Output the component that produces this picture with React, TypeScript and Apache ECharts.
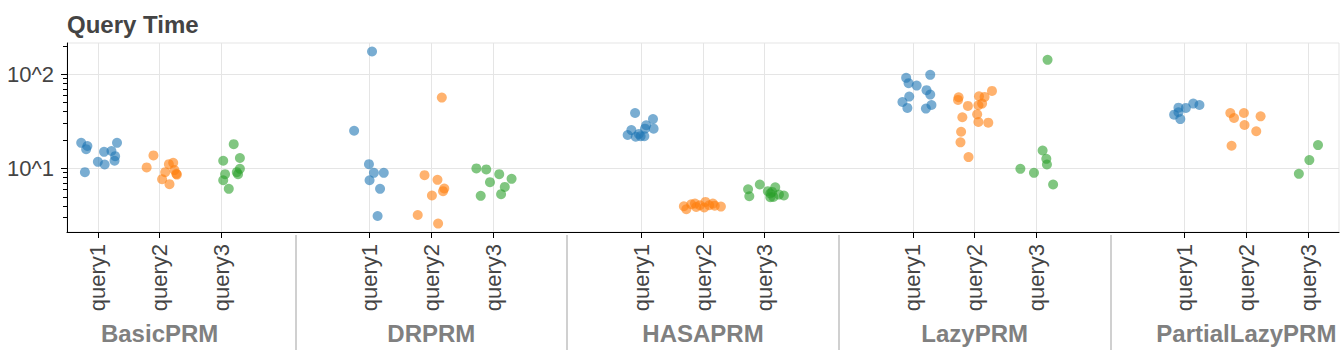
import React, { useEffect, useRef } from "react";
import * as echarts from "echarts";

const groups = ["BasicPRM", "DRPRM", "HASAPRM", "LazyPRM", "PartialLazyPRM"];
const queries = ["query1", "query2", "query3"];
const queryColors = ["#1f77b4", "#ff7f0e", "#2ca02c"];
const yMajorTicks = [10, 100];
const yMinorTicks = [3, 4, 5, 6, 7, 8, 9, 20, 30, 40, 50, 60, 70, 80, 90, 200];
const yRange = [2.117, 214];

// each point: [jitter offset in category units, query time]
const basicPRM_query1 = [[-0.27, 18.7], [-0.17, 17.3], [-0.19, 16.0], [0.31, 18.7], [0.1, 15.0], [0.22, 15.3], [0.28, 13.5], [0.27, 12.05], [0.0, 11.75], [0.11, 11.0], [-0.21, 9.13]];
const basicPRM_query2 = [[-0.1, 13.75], [0.22, 11.47], [0.15, 11.1], [-0.21, 10.25], [0.24, 9.6], [0.27, 8.77], [0.09, 9.13], [0.04, 7.69], [0.16, 6.81], [0.28, 8.6]];
const basicPRM_query3 = [[0.2, 18.1], [0.3, 12.9], [0.03, 12.05], [0.3, 9.9], [0.25, 9.13], [0.27, 8.7], [0.06, 8.7], [0.03, 7.5], [0.12, 6.07]];
const drPRM_query1 = [[0.04, 174], [-0.25, 25.1], [-0.01, 11.1], [0.07, 8.98], [0.23, 8.98], [0.0, 7.5], [0.17, 6.07], [0.13, 3.13]];
const drPRM_query2 = [[0.17, 56.4], [-0.11, 8.49], [0.1, 7.57], [0.21, 6.13], [0.19, 5.74], [0.01, 5.16], [-0.22, 3.21], [0.11, 2.6]];
const drPRM_query3 = [[-0.27, 10.0], [-0.11, 9.76], [0.1, 8.7], [0.3, 7.75], [-0.05, 7.15], [0.19, 6.37], [0.13, 5.33], [-0.2, 5.12]];
const hasaPRM_query1 = [[-0.1, 38.7], [0.19, 33.4], [0.2, 26.4], [0.08, 28.7], [0.06, 26.4], [-0.16, 25.5], [-0.22, 22.6], [-0.09, 21.7], [-0.01, 22.0], [0.05, 22.0], [-0.04, 23.2]];
const hasaPRM_query2 = [[-0.31, 3.97], [-0.27, 3.69], [-0.19, 4.17], [-0.13, 4.24], [-0.05, 4.07], [0.02, 3.85], [0.04, 4.41], [0.1, 4.07], [0.16, 4.24], [0.19, 4.03], [0.29, 3.94], [-0.11, 3.9]];
const hasaPRM_query3 = [[-0.08, 6.76], [0.17, 6.32], [-0.27, 6.02], [-0.25, 5.07], [0.05, 5.74], [0.09, 5.42], [0.14, 4.99], [0.31, 5.16], [0.23, 5.28], [0.12, 5.64], [0.09, 4.96]];
const lazyPRM_query1 = [[0.28, 98.3], [-0.11, 91.4], [-0.07, 80.2], [0.06, 75.7], [0.22, 67.6], [0.28, 60.7], [-0.06, 57.8], [-0.17, 50.7], [0.3, 47.1], [-0.09, 43.8], [0.21, 43.1]];
const lazyPRM_query2 = [[0.28, 66.4], [-0.26, 56.9], [-0.27, 53.3], [0.07, 58.3], [0.16, 57.4], [0.12, 48.7], [0.06, 46.8], [-0.11, 46.0], [0.04, 37.5], [-0.2, 34.9], [0.06, 31.1], [0.22, 30.6], [-0.22, 24.5], [-0.23, 18.9], [-0.1, 13.2]];
const lazyPRM_query3 = [[0.18, 141.9], [0.1, 15.5], [0.16, 12.65], [0.17, 11.0], [-0.26, 9.9], [-0.04, 8.98], [0.27, 6.76]];
const partialLazyPRM_query1 = [[0.14, 48.7], [0.24, 47.1], [0.02, 43.8], [-0.1, 44.1], [-0.1, 39.4], [-0.17, 37.2], [-0.07, 33.4]];
const partialLazyPRM_query2 = [[-0.26, 38.7], [-0.04, 38.7], [-0.2, 34.3], [0.23, 35.7], [-0.03, 28.9], [0.16, 24.8], [-0.24, 17.4]];
const partialLazyPRM_query3 = [[0.16, 17.7], [0.02, 12.25], [-0.15, 8.77]];

const samples = [
  [basicPRM_query1, basicPRM_query2, basicPRM_query3],
  [drPRM_query1, drPRM_query2, drPRM_query3],
  [hasaPRM_query1, hasaPRM_query2, hasaPRM_query3],
  [lazyPRM_query1, lazyPRM_query2, lazyPRM_query3],
  [partialLazyPRM_query1, partialLazyPRM_query2, partialLazyPRM_query3],
];

const GROUP_PADDING = 1.4;
const GROUP_STEP = queries.length + GROUP_PADDING;
const pos = (g: number, q: number) => g * GROUP_STEP + q;
const X_MIN = -0.5;
const X_MAX = pos(groups.length - 1, queries.length - 1) + 0.5;

const FONT = "'Liberation Sans', Arial, Helvetica, sans-serif";

export default function App() {
  const ref = useRef<HTMLDivElement>(null);
  useEffect(() => {
    if (!ref.current) return;
    const chart = echarts.init(ref.current, undefined, { renderer: "svg" });

    const catPositions: number[] = [];
    const catNames: string[] = [];
    groups.forEach((_, g) =>
      queries.forEach((name, q) => {
        catPositions.push(pos(g, q));
        catNames.push(name);
      })
    );
    const groupCenters = groups.map((_, g) => pos(g, (queries.length - 1) / 2));
    const separators = groups.slice(1).map((_, g) => pos(g, queries.length - 1) + (GROUP_STEP - (queries.length - 1)) / 2);
    const nearest = (v: number, arr: number[]) => {
      let best = 0;
      arr.forEach((p, i) => {
        if (Math.abs(p - v) < Math.abs(arr[best] - v)) best = i;
      });
      return best;
    };

    const series = queries.map((name, q) => ({
      name,
      type: "scatter",
      xAxisIndex: 0,
      yAxisIndex: 0,
      symbolSize: 10,
      itemStyle: { color: queryColors[q], opacity: 0.6 },
      data: groups.flatMap((_, g) =>
        samples[g][q].map(([j, v]) => [pos(g, q) + j, Math.log10(v)])
      ),
    }));

    const yMin = Math.log10(yRange[0]);
    const yMax = Math.log10(yRange[1]);

    chart.setOption({
      animation: false,
      textStyle: { fontFamily: FONT },
      title: {
        text: "Query Time",
        left: 62,
        top: 7,
        textStyle: { fontSize: 24, fontWeight: "bold", color: "#444444", fontFamily: FONT },
      },
      grid: {
        left: 67,
        right: 4,
        top: 43,
        bottom: 126,
        show: true,
        borderColor: "#e5e5e5",
        borderWidth: 1,
        containLabel: false,
      },
      xAxis: [
        {
          type: "value",
          min: X_MIN,
          max: X_MAX,
          position: "bottom",
          axisLine: { show: true, onZero: false, lineStyle: { color: "#000", width: 1 } },
          axisTick: { show: true, customValues: catPositions, length: 6, lineStyle: { color: "#000" } },
          axisLabel: {
            show: true,
            customValues: catPositions,
            rotate: 90,
            margin: 12,
            fontSize: 22,
            color: "#444444",
            fontFamily: FONT,
            formatter: (v: number) => catNames[nearest(v, catPositions)],
          },
          splitLine: { show: true, lineStyle: { color: "#e5e5e5", width: 1 } },
        },
        {
          type: "value",
          min: X_MIN,
          max: X_MAX,
          position: "bottom",
          axisLine: { show: false, onZero: false },
          axisTick: { show: false, customValues: groupCenters },
          axisLabel: {
            show: true,
            customValues: groupCenters,
            margin: 89,
            fontSize: 24,
            fontWeight: "bold",
            color: "#808080",
            fontFamily: FONT,
            formatter: (v: number) => groups[nearest(v, groupCenters)],
          },
          splitLine: { show: false },
        },
        {
          type: "value",
          min: X_MIN,
          max: X_MAX,
          position: "bottom",
          offset: 3,
          axisLine: { show: false, onZero: false },
          axisTick: { show: true, customValues: separators, length: 115, lineStyle: { color: "#d0d0d0", width: 2 } },
          axisLabel: { show: false, customValues: separators },
          splitLine: { show: false },
        },
      ],
      yAxis: [
        {
          type: "value",
          min: yMin,
          max: yMax,
          position: "left",
          axisLine: { show: true, onZero: false, lineStyle: { color: "#000", width: 1 } },
          axisTick: { show: true, customValues: yMajorTicks.map(Math.log10), length: 6, lineStyle: { color: "#000" } },
          axisLabel: {
            show: true,
            customValues: yMajorTicks.map(Math.log10),
            margin: 13,
            fontSize: 22,
            color: "#444444",
            fontFamily: FONT,
            formatter: (v: number) => "10^" + Math.round(v),
          },
          splitLine: { show: true, lineStyle: { color: "#e5e5e5", width: 1 } },
        },
        {
          type: "value",
          min: yMin,
          max: yMax,
          position: "left",
          axisLine: { show: false, onZero: false },
          axisTick: { show: true, customValues: yMinorTicks.map(Math.log10), length: 4, lineStyle: { color: "#000" } },
          axisLabel: { show: false, customValues: yMinorTicks.map(Math.log10) },
          splitLine: { show: false },
        },
      ],
      series,
    });
    return () => chart.dispose();
  }, []);
  return (
    <div
      ref={ref}
      style={{ position: "absolute", left: 0, top: 0, width: 1343, height: 358 }}
    />
  );
}
